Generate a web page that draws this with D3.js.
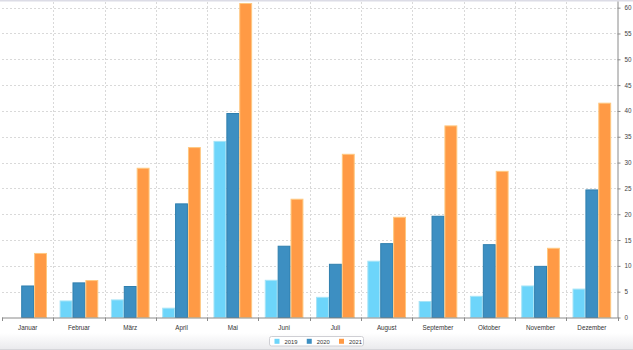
<!DOCTYPE html>
<html>
<head>
<meta charset="utf-8">
<script src="https://cdn.jsdelivr.net/npm/d3@7"></script>
<style>
  html, body { margin: 0; padding: 0; background: #fff; }
  svg { display: block; font-family: "Liberation Sans", Arial, sans-serif; }
</style>
</head>
<body>
<svg id="chart" width="633" height="350"></svg>
<script>
const months = ["Januar","Februar","März","April","Mai","Juni","Juli","August","September","Oktober","November","Dezember"];
const seriesNames = ["2019","2020","2021"];
const values2019 = [0, 3.3, 3.5, 1.9, 34.2, 7.3, 4.0, 11.0, 3.2, 4.2, 6.2, 5.6];
const values2020 = [6.2, 6.8, 6.1, 22.1, 39.6, 13.9, 10.4, 14.4, 19.7, 14.2, 10.0, 24.8];
const values2021 = [12.5, 7.25, 29.0, 33.0, 60.9, 23.0, 31.7, 19.5, 37.2, 28.4, 13.5, 41.6];
const yTicks = [0,5,10,15,20,25,30,35,40,45,50,55,60];
const fills = ["#6dd5fa", "#3d8fc2", "#ff9a45"];
const strokes = ["#a6e4f7", "#2f7fae", "#ffc880"];

const seriesValues = [values2019, values2020, values2021];
const data = months.map((m, i) => ({ month: m, vals: seriesNames.map((s, j) => ({ key: s, idx: j, v: seriesValues[j][i] })) }));

const svg = d3.select("#chart");
const W = 633, H = 350;
const pLeft = 2, pRight = 617.5, pTop = 2.5, pBottom = 317.5;

// bottom shading
const defs = svg.append("defs");
const grad = defs.append("linearGradient").attr("id", "bg").attr("x1", 0).attr("y1", 0).attr("x2", 0).attr("y2", 1);
grad.append("stop").attr("offset", "0%").attr("stop-color", "#ffffff");
grad.append("stop").attr("offset", "100%").attr("stop-color", "#e9e9ec");
svg.append("rect").attr("x", 0).attr("y", 333).attr("width", W).attr("height", 17).attr("fill", "url(#bg)");
svg.append("rect").attr("x", 0).attr("y", 349).attr("width", W).attr("height", 1).attr("fill", "#d6d6da");
// top band
svg.append("rect").attr("x", 0).attr("y", 0).attr("width", W).attr("height", 1.5).attr("fill", "#dcdce6");

const x0 = d3.scaleBand().domain(months).range([pLeft, pRight]).paddingInner(0).paddingOuter(0);
const x1 = d3.scaleBand().domain(seriesNames).range([0, x0.bandwidth()]).paddingInner(0).paddingOuter(0.49);
const y = d3.scaleLinear().domain([0, 61]).range([pBottom, pTop]);

// grid
const grid = svg.append("g");
grid.selectAll("line.h").data(yTicks.filter(t => t > 0)).join("line")
  .attr("x1", pLeft).attr("x2", pRight)
  .attr("y1", d => Math.round(y(d)) + 0.5).attr("y2", d => Math.round(y(d)) + 0.5)
  .attr("stroke", "#d9d9d9").attr("stroke-width", 1).attr("stroke-dasharray", "2,2");
grid.selectAll("line.v").data(months.slice(1)).join("line")
  .attr("x1", d => Math.round(x0(d)) + 0.5).attr("x2", d => Math.round(x0(d)) + 0.5)
  .attr("y1", 2).attr("y2", pBottom)
  .attr("stroke", "#d9d9d9").attr("stroke-width", 1).attr("stroke-dasharray", "2,2");

// bars
const groups = svg.append("g").selectAll("g").data(data).join("g")
  .attr("transform", d => `translate(${x0(d.month)},0)`);
groups.selectAll("rect").data(d => d.vals.filter(v => v.v > 0)).join("rect")
  .attr("x", d => x1(d.key) + 0.5)
  .attr("width", x1.bandwidth() - 1)
  .attr("y", d => y(d.v) + 0.5)
  .attr("height", d => Math.max(0, y(0) - y(d.v) - 0.5))
  .attr("fill", d => fills[d.idx])
  .attr("stroke", d => strokes[d.idx])
  .attr("stroke-width", 1);

// x axis
const xAxis = d3.axisBottom(x0).tickSize(0).tickFormat(d => d);
const gx = svg.append("g").attr("transform", `translate(0,${pBottom + 0.5})`).call(xAxis);
gx.select(".domain").attr("stroke", "#8a8a8a").attr("d", `M${pLeft},0H${pRight}`);
gx.selectAll("text").attr("font-size", "6.3px").attr("fill", "#333").attr("dy", "1.45em").attr("font-family", "'Liberation Sans', Arial, sans-serif");
svg.append("g").selectAll("line").data(months.concat(["end"])).join("line")
  .attr("x1", (d, i) => Math.round(pLeft + i * x0.step()) + 0.5)
  .attr("x2", (d, i) => Math.round(pLeft + i * x0.step()) + 0.5)
  .attr("y1", pBottom).attr("y2", pBottom + 3.5)
  .attr("stroke", "#8a8a8a");

// y axis on right
const yAxis = d3.axisRight(y).tickValues(yTicks).tickSize(3).tickPadding(4);
const gy = svg.append("g").attr("transform", `translate(${pRight},0)`).call(yAxis);
gy.select(".domain").attr("stroke", "#8a8a8a").attr("d", `M0.5,${pTop - 1}V${pBottom + 0.5}`);
gy.selectAll(".tick line").attr("stroke", "#8a8a8a");
gy.selectAll("text").attr("font-size", "6.3px").attr("fill", "#444").attr("font-family", "'Liberation Sans', Arial, sans-serif");

// legend
const legend = svg.append("g");
legend.append("rect").attr("x", 269.5).attr("y", 336.5).attr("width", 94).attr("height", 9.5)
  .attr("rx", 2).attr("fill", "#fff").attr("stroke", "#cfcfd4");
const lx = d3.scalePoint().domain(seriesNames).range([274.5, 339]);
const items = legend.selectAll("g.it").data(seriesNames).join("g")
  .attr("transform", d => `translate(${lx(d)},338.5)`);
items.append("rect").attr("width", 5).attr("height", 5).attr("y", 0.3)
  .attr("fill", (d, i) => fills[i]);
items.append("text").attr("x", 10).attr("y", 5.1).text(d => d)
  .attr("font-size", "5.8px").attr("fill", "#333");
</script>
</body>
</html>
